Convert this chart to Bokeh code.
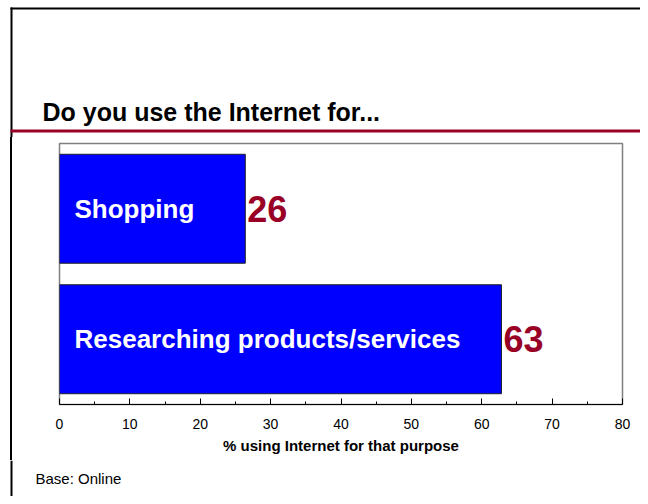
from bokeh.plotting import figure
from bokeh.layouts import column, row
from bokeh.models import Range1d, FactorRange, ColumnDataSource, FixedTicker, Div
from bokeh.core.properties import value
from bokeh.embed import file_html
from bokeh.resources import INLINE

# ---- data ----
categories = ["Shopping", "Researching products/services"]
percent = [26.4, 62.8]
value_labels = ["26", "63"]
x_ticks = [0, 10, 20, 30, 40, 50, 60, 70, 80]
title_text = "Do you use the Internet for..."
x_label = "% using Internet for that purpose"
base_text = "Base: Online"

FONT = "Liberation Sans"
DARK_RED = "#990026"
W = 640


def deco_fig(width, height):
    """A plain figure whose frame is the whole canvas, 1 unit = 1 pixel, y downward."""
    f = figure(width=width, height=height, output_backend="svg", toolbar_location=None,
               x_range=Range1d(0, width), y_range=Range1d(height, 0),
               x_axis_location=None, y_axis_location=None,
               min_border=0, min_border_left=0, min_border_right=0,
               min_border_top=0, min_border_bottom=0)
    f.grid.visible = False
    f.outline_line_color = None
    f.background_fill_color = "white"
    f.border_fill_color = "white"
    return f


# ---- header: page frame, title, red rule ----
HEAD_H = 137
head = deco_fig(W, HEAD_H)
head.quad(left=[10], right=[W], top=[7], bottom=[9], fill_color="black", line_color=None)
head.quad(left=[10], right=[12], top=[7], bottom=[HEAD_H], fill_color="black", line_color=None)
head.quad(left=[10], right=[W], top=[129], bottom=[132], fill_color=DARK_RED, line_color=None)
head.text(x=[42], y=[111], text=[title_text], text_font=value(FONT), text_font_style="bold",
          text_font_size="25px", text_color="black", text_align="left", text_baseline="middle")

# ---- left strip carrying the page frame line ----
MAIN_H = 323
STRIP_W = 30
strip = Div(text="", width=STRIP_W, height=MAIN_H, margin=0,
            styles={"background": "linear-gradient(to right, white 10px, black 10px, black 12px, white 12px)",
                    "margin": "0px", "padding": "0px"})

# ---- main chart ----
src = ColumnDataSource(dict(cat=categories, pct=percent, lab=value_labels, zero=[0] * len(categories)))

p = figure(width=W - STRIP_W, height=MAIN_H, output_backend="svg", toolbar_location=None,
           x_range=Range1d(0, 80), y_range=FactorRange(factors=list(reversed(categories))),
           y_axis_location=None,
           min_border_left=29, min_border_top=6, min_border_right=18, min_border_bottom=56)

p.hbar(y="cat", right="pct", left=0, height=0.835, source=src,
       fill_color="#0000FF", line_color="#222222", line_width=1)

p.text(x="zero", y="cat", text="cat", source=src, x_offset=15,
       text_font=value(FONT), text_font_style="bold", text_font_size="26px",
       text_color="white", text_align="left", text_baseline="middle")

p.text(x="pct", y="cat", text="lab", source=src, x_offset=2,
       text_font=value(FONT), text_font_style="bold", text_font_size="36px",
       text_color=DARK_RED, text_align="left", text_baseline="middle")

p.grid.visible = False
p.outline_line_color = "#808080"
p.outline_line_width = 1.5
p.background_fill_color = "white"
p.border_fill_color = "white"

ax = p.xaxis[0]
ax.ticker = FixedTicker(ticks=x_ticks, minor_ticks=[t + 5 for t in x_ticks[:-1]])
ax.axis_line_color = "black"
ax.major_tick_in = 6
ax.major_tick_out = 0
ax.minor_tick_in = 3
ax.minor_tick_out = 0
ax.major_tick_line_color = "black"
ax.minor_tick_line_color = "black"
ax.major_label_text_font = FONT
ax.major_label_text_font_size = "14px"
ax.major_label_text_color = "black"
ax.major_label_standoff = 14
ax.axis_label = x_label
ax.axis_label_text_font = FONT
ax.axis_label_text_font_style = "bold"
ax.axis_label_text_font_size = "15px"
ax.axis_label_text_color = "black"
ax.axis_label_standoff = 5

# ---- footer: base note ----
FOOT_H = 36
foot = deco_fig(W, FOOT_H)
foot.quad(left=[10], right=[12], top=[0], bottom=[FOOT_H], fill_color="black", line_color=None)
foot.text(x=[35], y=[18], text=[base_text], text_font=value(FONT), text_font_size="15px",
          text_color="black", text_align="left", text_baseline="middle")

layout = column(head, row(strip, p, spacing=0), foot, spacing=0)

open("out.html", "w").write(file_html(layout, INLINE))
